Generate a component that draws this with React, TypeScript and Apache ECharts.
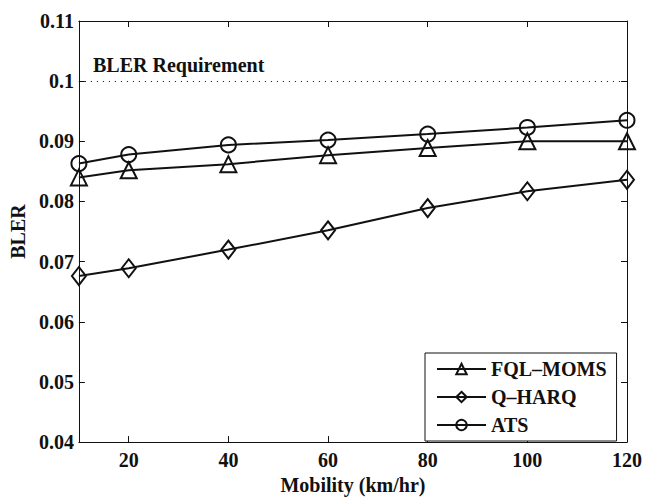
import React, { useEffect, useRef } from "react";
import * as echarts from "echarts";

const mobility = [10, 20, 40, 60, 80, 100, 120];
const xTickValues = [20, 40, 60, 80, 100, 120];
const fqlMoms = [0.084, 0.0852, 0.0862, 0.0877, 0.0889, 0.09, 0.09];
const qHarq = [0.0676, 0.0689, 0.072, 0.0752, 0.0789, 0.0817, 0.0836];
const ats = [0.0863, 0.0878, 0.0894, 0.0902, 0.0912, 0.0923, 0.0935];
const requirement = 0.1;
const seriesNames = ["FQL\u2013MOMS", "Q\u2013HARQ", "ATS"];

const FONT = "'Liberation Serif', 'Times New Roman', serif";
const INK = "#111";
const FS = 20;

export default function App() {
  const ref = useRef<HTMLDivElement>(null);
  useEffect(() => {
    if (!ref.current) return;
    const chart = echarts.init(ref.current, undefined, { renderer: "svg" });
    const pair = (ys: number[]) => mobility.map((x, i) => [x, ys[i]]);
    const mk = (name: string, ys: number[], symbol: string, size: any, extra: any = {}) => ({
      name,
      type: "line",
      data: pair(ys),
      symbol,
      symbolSize: size,
      showSymbol: true,
      lineStyle: { color: INK, width: 2 },
      itemStyle: { color: "rgba(0,0,0,0)", borderColor: INK, borderWidth: 2 },
      emphasis: { disabled: true },
      z: 3,
      ...extra,
    });
    const tickStyle = { show: true, inside: true, length: 6, lineStyle: { color: INK, width: 1 } };
    chart.setOption({
      animation: false,
      grid: { left: 78, right: 28, top: 21, bottom: 48, containLabel: false },
      legend: {
        orient: "vertical",
        left: 425,
        top: 353,
        padding: [6, 10, 6, 11],
        itemGap: 8,
        itemWidth: 49,
        itemHeight: 13,
        itemStyle: { color: "rgba(0,0,0,0)", borderColor: INK, borderWidth: 2 },
        lineStyle: { color: INK, width: 2 },
        borderColor: INK,
        borderWidth: 1,
        backgroundColor: "#fff",
        textStyle: { fontFamily: FONT, fontWeight: "bold", fontSize: FS, color: INK, lineHeight: 20 },
        data: seriesNames,
      },
      xAxis: [
        {
          type: "value",
          min: 10,
          max: 120,
          position: "bottom",
          name: "Mobility (km/hr)",
          nameLocation: "middle",
          nameGap: 30,
          nameTextStyle: { fontFamily: FONT, fontWeight: "bold", fontSize: FS, color: INK },
          axisLine: { show: true, onZero: false, lineStyle: { color: INK, width: 1 } },
          axisTick: { ...tickStyle, customValues: xTickValues },
          axisLabel: {
            customValues: xTickValues,
            margin: 8,
            fontFamily: FONT,
            fontWeight: "bold",
            fontSize: FS,
            color: INK,
          },
          splitLine: { show: false },
        },
        {
          type: "value",
          min: 10,
          max: 120,
          position: "top",
          axisLine: { show: true, onZero: false, lineStyle: { color: INK, width: 1 } },
          axisTick: { ...tickStyle, customValues: xTickValues },
          axisLabel: { show: false },
          splitLine: { show: false },
        },
      ],
      yAxis: [
        {
          type: "value",
          min: 0.04,
          max: 0.11,
          interval: 0.01,
          position: "left",
          name: "BLER",
          nameLocation: "middle",
          nameGap: 49,
          nameTextStyle: { fontFamily: FONT, fontWeight: "bold", fontSize: FS, color: INK },
          axisLine: { show: true, onZero: false, lineStyle: { color: INK, width: 1 } },
          axisTick: tickStyle,
          axisLabel: {
            margin: 5,
            fontFamily: FONT,
            fontWeight: "bold",
            fontSize: FS,
            color: INK,
            formatter: (v: number) => String(parseFloat(v.toFixed(3))),
          },
          splitLine: { show: false },
        },
        {
          type: "value",
          min: 0.04,
          max: 0.11,
          interval: 0.01,
          position: "right",
          axisLine: { show: true, onZero: false, lineStyle: { color: INK, width: 1 } },
          axisTick: tickStyle,
          axisLabel: { show: false },
          splitLine: { show: false },
        },
      ],
      graphic: [
        {
          type: "text",
          left: 93,
          top: 55,
          style: {
            text: "BLER Requirement",
            font: `bold ${FS}px ${FONT}`,
            fill: INK,
          },
        },
      ],
      series: [
        mk(seriesNames[0], fqlMoms, "triangle", 16, {
          markLine: {
            silent: true,
            symbol: "none",
            label: { show: false },
            lineStyle: { color: INK, width: 1, type: [1, 5] },
            data: [{ yAxis: requirement }],
          },
        }),
        mk(seriesNames[1], qHarq, "diamond", [14, 18]),
        mk(seriesNames[2], ats, "circle", 15),
      ],
    });
    return () => chart.dispose();
  }, []);
  return (
    <div
      ref={ref}
      style={{ position: "fixed", left: 0, top: 0, width: 655, height: 500, background: "#fff" }}
    />
  );
}
